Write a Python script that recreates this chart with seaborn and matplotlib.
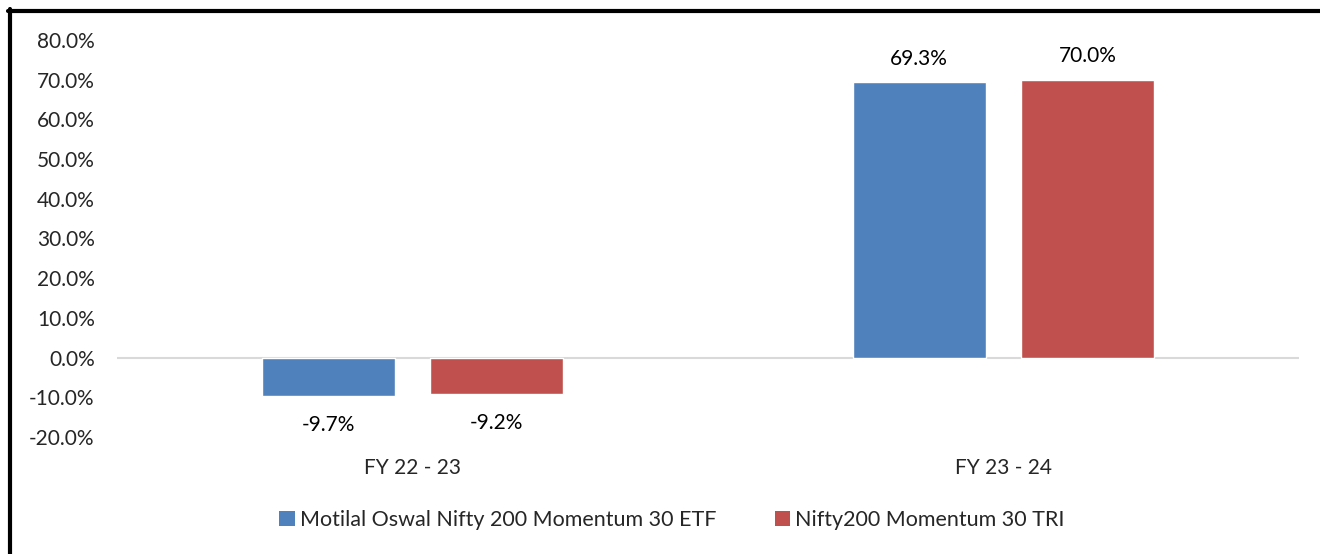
import numpy as np
import pandas as pd
import matplotlib as mpl
import matplotlib.pyplot as plt
import seaborn as sns
from matplotlib.lines import Line2D
from matplotlib.patches import Patch

# data
periods = ["FY 22 - 23", "FY 23 - 24"]
series = ["Motilal Oswal Nifty 200 Momentum 30 ETF", "Nifty200 Momentum 30 TRI"]
etf_returns = [-9.7, 69.3]
tri_returns = [-9.2, 70.0]
colors = ["#4F81BD", "#C0504D"]

df = pd.DataFrame({
    "period": periods * 2,
    "series": [series[0]] * 2 + [series[1]] * 2,
    "ret": etf_returns + tri_returns,
})

sns.set_theme(style="white")
plt.rcParams["font.family"] = ["Lato", "DejaVu Sans"]
fs = 15

fig = plt.figure(figsize=(13.2, 5.54), dpi=100)
ax = fig.add_axes([0.0886, 0.2112, 0.8955, 0.7166])

sns.barplot(
    data=df, x="period", y="ret", hue="series",
    hue_order=series, order=periods, palette=colors,
    width=0.57, gap=0.21, saturation=1, legend=False, ax=ax,
)

ax.set_ylim(-20, 80)
ax.set_xlim(-0.5, 1.5)
ax.set_yticks(np.arange(-20, 81, 10))
ax.set_yticklabels([f"{v:.1f}%" for v in np.arange(-20, 81, 10)])
ax.tick_params(axis="y", labelsize=fs, pad=16, length=0)
ax.tick_params(axis="x", labelsize=fs, pad=15, length=0)
ax.set_xlabel("")
ax.set_ylabel("")
for s in ax.spines.values():
    s.set_visible(False)
ax.axhline(0, color="#D9D9D9", lw=1.5, zorder=0)

# value labels
for cont in ax.containers:
    for bar in cont:
        h = bar.get_height()
        x = bar.get_x() + bar.get_width() / 2
        if h >= 0:
            ax.annotate(f"{h:.1f}%", (x, h), xytext=(0, 17), textcoords="offset points",
                        ha="center", va="center", fontsize=fs, color="black")
        else:
            ax.annotate(f"{h:.1f}%", (x, h), xytext=(0, -21), textcoords="offset points",
                        ha="center", va="center", fontsize=fs, color="black")

lfs = 15.5
handles = [Patch(facecolor=c, edgecolor="none") for c in colors]
fig.legend(handles, series, loc="center", bbox_to_anchor=(672 / 1320, 34 / 554),
           ncol=2, frameon=False, fontsize=lfs, handlelength=0.7, handleheight=0.7,
           handletextpad=0.25, columnspacing=2.7)

# frame edges (left and top)
fig.add_artist(Line2D([10 / 1320, 10 / 1320], [0, 1 - 9 / 554], color="black", lw=3, transform=fig.transFigure))
fig.add_artist(Line2D([8 / 1320, 1], [1 - 11 / 554, 1 - 11 / 554], color="black", lw=3, transform=fig.transFigure))

fig.savefig("out.png", dpi=100)
